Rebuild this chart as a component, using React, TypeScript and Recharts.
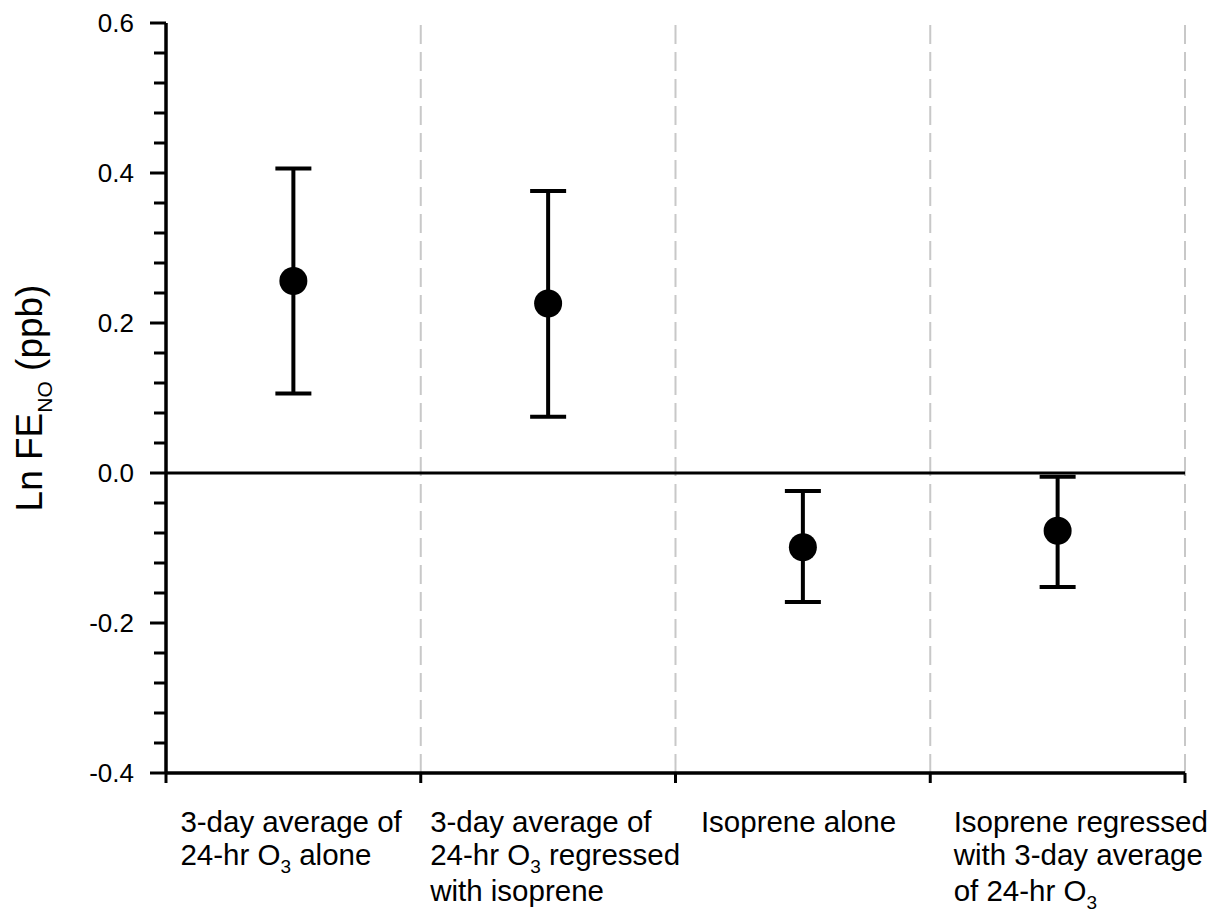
import React from 'react';
import { ComposedChart, Scatter, ErrorBar, XAxis, YAxis, ReferenceLine } from 'recharts';

// category labels, one entry per line; _{..} marks a subscript
const categories = [
  ['3-day average of', '24-hr O_{3} alone'],
  ['3-day average of', '24-hr O_{3} regressed', 'with isoprene'],
  ['Isoprene alone'],
  ['Isoprene regressed', 'with 3-day average', 'of 24-hr O_{3}'],
];
const estimates = [0.256, 0.226, -0.099, -0.077];
const lowerCI = [0.106, 0.075, -0.172, -0.152];
const upperCI = [0.406, 0.376, -0.024, -0.005];

const majorTicks = [-0.4, -0.2, 0, 0.2, 0.4, 0.6];
const minorTicks = [
  -0.36, -0.32, -0.28, -0.24, -0.16, -0.12, -0.08, -0.04,
  0.04, 0.08, 0.12, 0.16, 0.24, 0.28, 0.32, 0.36, 0.44, 0.48, 0.52, 0.56,
];
const bandEdges = [0, 1, 2, 3, 4];
const bandCenters = [0.5, 1.5, 2.5, 3.5];
const separators = [1, 2, 3, 4];

const FONT = '"Liberation Sans", Arial, Helvetica, sans-serif';
const labelShift = [-113, -118, -102, -104];
const lineOffsets = [59, 92, 128];

const chartData = estimates.map((v, i) => ({
  x: bandCenters[i],
  y: v,
  err: [v - lowerCI[i], upperCI[i] - v],
}));

const isMajor = (v: number) => majorTicks.some((m) => Math.abs(m - v) < 1e-9);

const renderLine = (line: string) => {
  const parts = line.split(/(_\{[^}]*\})/).filter((p) => p.length > 0);
  let shifted = false;
  return parts.map((p, k) => {
    if (p.startsWith('_{')) {
      shifted = true;
      return (
        <tspan key={k} dy={8} fontSize={19}>
          {p.slice(2, -1)}
        </tspan>
      );
    }
    const dy = shifted ? -8 : undefined;
    shifted = false;
    return (
      <tspan key={k} dy={dy}>
        {p}
      </tspan>
    );
  });
};

const XTick = (props: any) => {
  const { x, y, payload } = props;
  const v = payload.value;
  if (Number.isInteger(v)) {
    return <line x1={x} x2={x} y1={y} y2={y + 10} stroke="#000" strokeWidth={3} />;
  }
  const idx = Math.floor(v);
  const lines = categories[idx] || [];
  return (
    <g>
      {lines.map((ln, j) => (
        <text
          key={j}
          x={x + labelShift[idx]}
          y={y + lineOffsets[j]}
          textAnchor="start"
          fontFamily={FONT}
          fontSize={29.5}
          fill="#000"
        >
          {renderLine(ln)}
        </text>
      ))}
    </g>
  );
};

const YTick = (props: any) => {
  const { x, y, payload } = props;
  const v = payload.value;
  const major = isMajor(v);
  return (
    <g>
      <line x1={x - (major ? 16 : 12)} x2={x} y1={y} y2={y} stroke="#000" strokeWidth={3} />
      {major && (
        <text
          x={x - 32}
          y={y}
          dy="0.36em"
          textAnchor="end"
          fontFamily={FONT}
          fontSize={26}
          fill="#000"
        >
          {v.toFixed(1)}
        </text>
      )}
    </g>
  );
};

const YLabel = (props: any) => {
  const vb = props.viewBox;
  const cy = vb ? vb.y + vb.height / 2 : 398;
  const x = 42;
  return (
    <text
      transform={`rotate(-90, ${x}, ${cy})`}
      x={x}
      y={cy}
      textAnchor="middle"
      fontFamily={FONT}
      fontSize={37}
      fill="#000"
    >
      Ln FE
      <tspan dy={10} fontSize={21}>
        NO
      </tspan>
      <tspan dy={-10}> (ppb)</tspan>
    </text>
  );
};

const App: React.FC = () => {
  return (
    <div style={{ position: 'absolute', left: 0, top: 0, background: '#fff' }}>
      <ComposedChart
        width={1226}
        height={914}
        data={chartData}
        margin={{ top: 23, right: 41, bottom: 0, left: 0 }}
      >
        <XAxis
          type="number"
          dataKey="x"
          domain={[0, 4]}
          ticks={[...bandEdges, ...bandCenters].sort((a, b) => a - b)}
          interval={0}
          tickSize={0}
          tickMargin={0}
          tickLine={false}
          tick={<XTick />}
          height={141}
          axisLine={{ stroke: '#000', strokeWidth: 3.5 }}
        />
        <YAxis
          type="number"
          domain={[-0.4, 0.6]}
          ticks={[...majorTicks, ...minorTicks].sort((a, b) => a - b)}
          interval={0}
          width={166}
          tickSize={0}
          tickMargin={0}
          tickLine={false}
          tick={<YTick />}
          axisLine={{ stroke: '#000', strokeWidth: 3.5 }}
          label={<YLabel />}
        />
        {separators.map((s) => (
          <ReferenceLine
            key={s}
            x={s}
            stroke="#c8c8c8"
            strokeWidth={2}
            strokeDasharray="19 8"
          />
        ))}
        <ReferenceLine y={0} stroke="#000" strokeWidth={3} />
        <Scatter
          dataKey="y"
          fill="#000"
          isAnimationActive={false}
          shape={(p: any) => <circle cx={p.cx} cy={p.cy} r={14} fill="#000" />}
        >
          <ErrorBar
            dataKey="err"
            direction="y"
            width={18}
            strokeWidth={4}
            stroke="#000"
            isAnimationActive={false}
          />
        </Scatter>
      </ComposedChart>
    </div>
  );
};

export default App;
